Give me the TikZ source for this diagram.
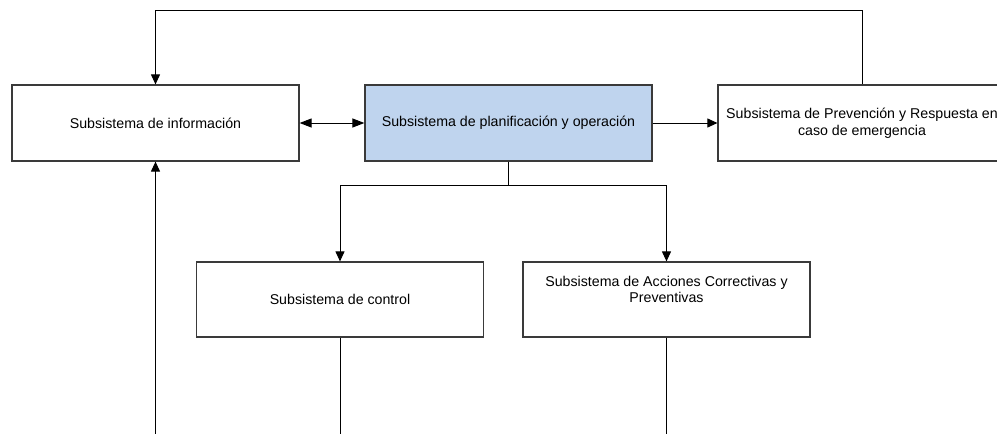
\documentclass[tikz,border=0pt]{standalone}
\usepackage{fontspec}
\setmainfont{Liberation Sans}
\usetikzlibrary{arrows.meta}
\definecolor{boxline}{HTML}{3A3A3A}
\definecolor{planfill}{HTML}{BFD4EE}
\begin{document}
\begin{tikzpicture}[x=1pt,y=-1pt,
  sub/.style={draw=boxline,line width=1.2pt,fill=white,rectangle,inner sep=0pt,
    minimum width=287pt,minimum height=76pt,align=center,
    font=\fontsize{14.2}{16.5}\selectfont},
  lbl/.style={inner sep=0pt,align=center,font=\fontsize{14.2}{16.5}\selectfont},
  link/.style={draw=black,line width=1pt},
  arr/.style={link,-{Triangle[length=10pt,width=9pt]}},
  darr/.style={link,{Triangle[length=12pt,width=9pt]}-{Triangle[length=12pt,width=9pt]}}]
\useasboundingbox (0,0) rectangle (997,434);

% subsystem boxes
\node[sub] (info) at (155.5,123) {Subsistema de información};
\node[sub,fill=planfill] (plan) at (508.5,123) {Subsistema de planificación y operación};
\node[sub,minimum width=288pt] (prev) at (862,123)
  {Subsistema de Prevención y Respuesta en\\caso de emergencia};
\node[sub,minimum height=75pt] (ctrl) at (340,299.5) {Subsistema de control};
\node[sub,minimum height=75pt] (acc) at (666.5,299.5) {};
\node[lbl] (acctext) at ([yshift=10pt]acc.center)
  {Subsistema de Acciones Correctivas y\\Preventivas};

% connectors
\coordinate (split) at (508.5,185);
\coordinate (base) at (0,434);
\draw[arr] (prev.north) -- (prev.north |- 0,10) -| (info.north);
\draw[darr] (info.east) -- (plan.west);
\draw[arr] (plan.east) -- (prev.west);
\draw[link] (plan.south) -- (split);
\draw[arr] (split) -| (ctrl.north);
\draw[arr] (split) -| (acc.north);
\draw[arr] (info.south |- base) -- (info.south);
\draw[link] (ctrl.south) -- (ctrl.south |- base);
\draw[link] (acc.south) -- (acc.south |- base);
\end{tikzpicture}
\end{document}
